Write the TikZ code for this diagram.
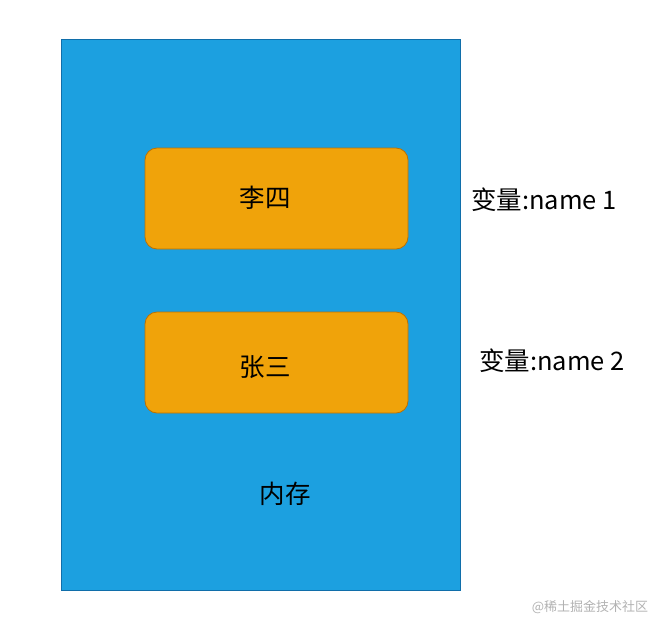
\documentclass[tikz,border=0pt]{standalone}
\usepackage{fontspec}
\setmainfont{Liberation Sans}
\newfontfamily\cjk{Noto Sans CJK SC}
\usetikzlibrary{positioning}
\definecolor{memblue}{RGB}{28,160,224}
\definecolor{memedge}{RGB}{16,110,170}
\definecolor{valorange}{RGB}{240,163,10}
\definecolor{valedge}{RGB}{189,112,0}
\tikzset{
  valbox/.style={draw=valedge,fill=valorange,rounded corners=12pt,line width=0.8pt},
  lbl/.style={font=\fontsize{25.5}{30}\selectfont\cjk,inner sep=0pt}
}
\begin{document}
\begin{tikzpicture}[x=1pt,y=-1pt]
    \useasboundingbox (0,0) rectangle (669,633);
    % Memory
    \draw[memedge,fill=memblue,line width=0.8pt] (61,39) rectangle (460,590);
    \node[lbl] (mem) at (285,494) {内存};

    % Values
    \draw[valbox] (145,148) rectangle (408,249);
    \node[lbl] (lisi) at (265,198) {李四};
    \draw[valbox] (145,312) rectangle (408,413);
    \node[lbl] (zhangsan) at (265,367) {张三};

    % Variables
    \node[lbl] (var1) at (544,200) {变量:name 1};
    \node[lbl] (var2) at (552,361) {变量:name 2};

    \node[font=\fontsize{13}{15}\selectfont\cjk,text=gray!60,inner sep=0pt] (mark) at (590,607) {@稀土掘金技术社区};
\end{tikzpicture}
\end{document}
